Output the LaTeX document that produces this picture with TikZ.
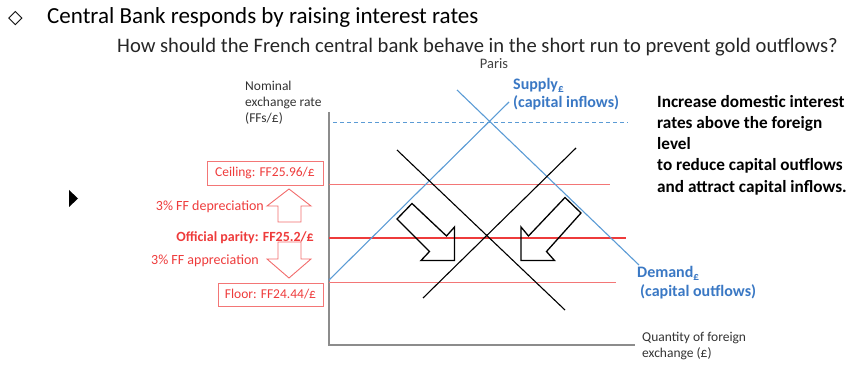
\documentclass[tikz,border=0pt]{standalone}
\usepackage{fontspec}
\setmainfont{Carlito}
\newfontfamily\symbolfont{DejaVu Sans}
\usetikzlibrary{positioning}
\definecolor{supblue}{HTML}{5B9BD5}
\definecolor{labblue}{HTML}{3A78C4}
\definecolor{parred}{HTML}{EE3B3B}
\definecolor{axisgray}{HTML}{8C8C8C}
\tikzset{
  axis/.style={draw=axisgray, line width=1.3pt},
  curve/.style={draw=supblue, line width=1.1pt},
  cross/.style={draw=black, line width=1.1pt},
  band/.style={draw=parred!70, line width=0.9pt},
  parity/.style={draw=parred, line width=2.3pt},
  blockarrow/.style={draw=black, line width=1.3pt, line join=miter},
  redarrow/.style={draw=parred!75, line width=0.9pt, line join=miter},
  small/.style={font=\fontsize{13.5}{16}\selectfont, inner sep=0pt, align=left},
  redlabel/.style={small, text=parred, font=\fontsize{14}{16}\selectfont},
  bandbox/.style={redlabel, font=\fontsize{13.5}{16}\selectfont, draw=parred!70, line width=0.8pt, inner sep=0pt},
  bluelabel/.style={font=\bfseries\fontsize{16}{18.5}\selectfont, text=labblue, inner sep=0pt, align=left}
}
\begin{document}
\begin{tikzpicture}[x=1pt,y=-1pt]
\useasboundingbox (0,0) rectangle (862,374);
% headings
\node[anchor=base west, inner sep=0pt, font=\symbolfont\bfseries\fontsize{19}{22}\selectfont] (diam) at (8,24) {◇};
\node[anchor=base west, inner sep=0pt, font=\fontsize{23}{28}\selectfont] (title) at (47,24) {Central Bank responds by raising interest rates};
\node[anchor=base west, inner sep=0pt, font=\fontsize{20.6}{24}\selectfont, text=black!85] (question) at (117,53) {How should the French central bank behave in the short run to prevent gold outflows?};
\node[small, font=\fontsize{14.5}{16}\selectfont, text=black!75] (paris) at (494,64) {Paris};
\fill (69,190) -- (69,207) -- (78,198.5) -- cycle;

% axes
\coordinate (origin) at (329,345);
\coordinate (ytop) at (329,112);
\coordinate (xend) at (635,345);
\draw[axis] (ytop) -- (origin) -- (xend);
\node[small, anchor=north west, text=black!80] (ylab) at (245,80.5) {Nominal\\exchange rate\\(FFs/£)};
\node[small, anchor=north west, text=black!80] (xlab) at (642,332) {Quantity of foreign\\exchange (£)};

% band around parity
\coordinate (ceil0) at (329,184);  \coordinate (ceil1) at (610,184);
\coordinate (par0) at (329,238);   \coordinate (par1) at (626,238);
\coordinate (flo0) at (329,282);   \coordinate (flo1) at (616,282);
\draw[band] (ceil0) -- (ceil1);
\draw[band] (flo0) -- (flo1);
\draw[parity] (par0) -- (par1);

\node[bandbox, minimum width=116pt, minimum height=24pt] (ceiling) at (265,173) {Ceiling: FF25.96/£};
\node[bandbox, minimum width=105pt, minimum height=23pt] (floor) at (270.5,294.5) {Floor: FF24.44/£};

% red up/down arrows
\draw[redarrow] (289,189) -- (311,206) -- (301,206) -- (301,222) -- (278,222) -- (278,206) -- (267,206) -- cycle;
\draw[redarrow] (289,278) -- (311,259) -- (301,259) -- (301,242) -- (278,242) -- (278,259) -- (267,259) -- cycle;
\node[redlabel, anchor=east] (dep) at (264,207) {3\% FF depreciation};
\node[redlabel, anchor=east, font=\bfseries\fontsize{14}{16}\selectfont] (parlab) at (314,238) {Official parity: FF25.2/£};
\node[redlabel, anchor=east] (app) at (259,261) {3\% FF appreciation};

% foreign exchange market
\coordinate (dash0) at (333,122);  \coordinate (dash1) at (628,122);
\draw[draw=supblue, line width=0.9pt, dash pattern=on 4pt off 3pt] (dash0) -- (dash1);
\coordinate (sup0) at (329,280);   \coordinate (sup1) at (509,102);
\coordinate (dem0) at (457,90);    \coordinate (dem1) at (639,265);
\draw[curve] (sup0) -- (sup1);
\draw[curve] (dem0) -- (dem1);
\node[bluelabel, anchor=base west] (supply) at (513,108) {Supply\textsubscript{£}\\(capital inflows)};
\node[bluelabel, anchor=base west] (demand) at (637,296) {Demand\textsubscript{£}\\\hspace{3pt}(capital outflows)};

\coordinate (crossA0) at (397,150); \coordinate (crossA1) at (565,310);
\coordinate (crossB0) at (423,298); \coordinate (crossB1) at (576,148);
\draw[cross] (crossA0) -- (crossA1);
\draw[cross] (crossB0) -- (crossB1);

% shifts of the two schedules
\draw[blockarrow] (397,219) -- (412,203.5) -- (446.5,236) -- (454.5,227) -- (454.5,260.5) -- (421,260.5) -- (429.5,251.5) -- cycle;
\draw[blockarrow] (581,213) -- (565,197.5) -- (528.5,236) -- (521,227) -- (521,260.5) -- (554.5,260.5) -- (546.5,251.5) -- cycle;

\node[anchor=north west, inner sep=0pt, align=left, font=\bfseries\fontsize{17.2}{21.2}\selectfont] (policy) at (657,95) {Increase domestic interest\\rates above the foreign\\level\\to reduce capital outflows\\and attract capital inflows.};
\end{tikzpicture}
\end{document}
